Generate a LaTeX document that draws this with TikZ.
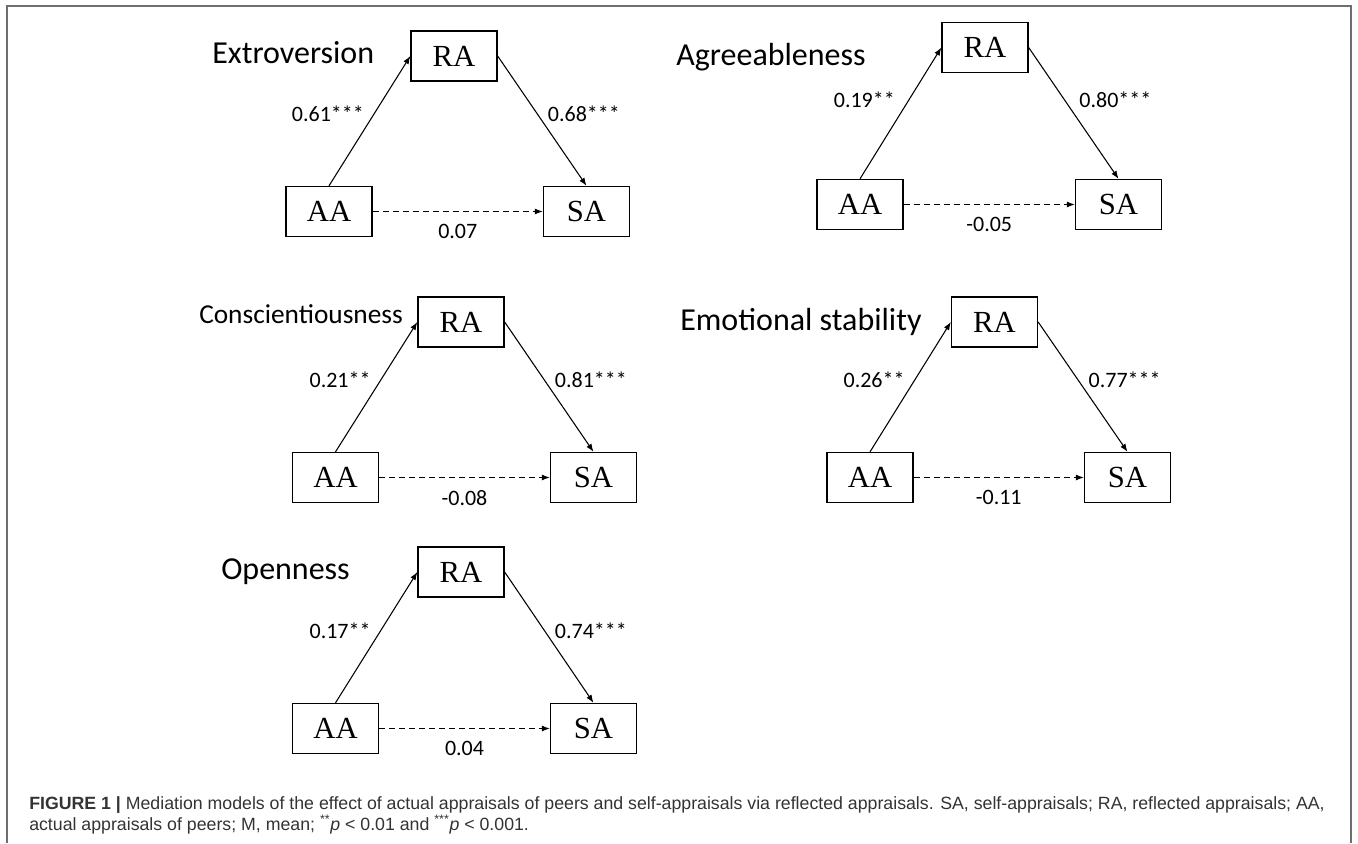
\documentclass[tikz,border=0pt]{standalone}
\usepackage{fontspec}
\setmainfont{Liberation Serif}
\newfontfamily\calfont{Carlito}
\newfontfamily\capfont{Liberation Sans}
\usepackage{xcolor}
\usetikzlibrary{arrows.meta,positioning}
\definecolor{framegray}{HTML}{6E6E6E}
\definecolor{captext}{HTML}{333333}

\begin{document}
\begin{tikzpicture}[x=0.75pt,y=-0.75pt,
  box/.style={draw,line width=1pt,minimum width=64.5pt,minimum height=37.5pt,inner sep=0pt,font=\fontsize{23}{23}\selectfont},
  trait/.style={anchor=base west,inner sep=0pt,font=\calfont\fontsize{24}{24}\selectfont},
  coef/.style={inner sep=4pt,font=\calfont\fontsize{16.5}{16.5}\selectfont},
  slopecoef/.style={coef,yshift=-5pt},
  link/.style={-{Latex[length=6pt,width=4.5pt]},line width=0.8pt},
  directlink/.style={link,dash pattern=on 4.5pt off 3pt}]
\useasboundingbox (0,0) rectangle (1358,843);
\draw[framegray,line width=1.5pt] (7,843) -- (7,6) -- (1351,6) -- (1351,843);

% Extroversion
\node[trait] (t1) at (212,63) {Extroversion};
\node[box] (ra1) at (454,56) {RA};
\node[box] (aa1) at (329,211.5) {AA};
\node[box] (sa1) at (586.5,211.5) {SA};
\draw[link] (aa1.north) -- (ra1.west) node[slopecoef,midway,above left]{0.61***};
\draw[link] (ra1.east) -- (sa1.north) node[slopecoef,midway,above right]{0.68***};
\draw[directlink] (aa1.east) -- (sa1.west) node[coef,midway,below=5pt]{0.07};

% Agreeableness
\node[trait] (t2) at (676,65) {Agreeableness};
\node[box] (ra2) at (985,47.5) {RA};
\node[box] (aa2) at (860,204.5) {AA};
\node[box] (sa2) at (1118.5,204.5) {SA};
\draw[link] (aa2.north) -- (ra2.west) node[coef,midway,above left]{0.19**};
\draw[link] (ra2.east) -- (sa2.north) node[coef,midway,above right]{0.80***};
\draw[directlink] (aa2.east) -- (sa2.west) node[coef,midway,below=5pt]{-0.05};

% Conscientiousness
\node[trait,font=\calfont\fontsize{20.5}{20.5}\selectfont] (t3) at (199,323) {Conscientiousness};
\node[box] (ra3) at (461,322) {RA};
\node[box] (aa3) at (335.5,477.5) {AA};
\node[box] (sa3) at (593.5,477.5) {SA};
\draw[link] (aa3.north) -- (ra3.west) node[slopecoef,midway,above left]{0.21**};
\draw[link] (ra3.east) -- (sa3.north) node[slopecoef,midway,above right]{0.81***};
\draw[directlink] (aa3.east) -- (sa3.west) node[coef,midway,below=5pt]{-0.08};

% Emotional stability
\node[trait] (t4) at (680,330) {Emotional stability};
\node[box] (ra4) at (994.5,322) {RA};
\node[box] (aa4) at (870,477.5) {AA};
\node[box] (sa4) at (1127.5,477.5) {SA};
\draw[link] (aa4.north) -- (ra4.west) node[slopecoef,midway,above left]{0.26**};
\draw[link] (ra4.east) -- (sa4.north) node[slopecoef,midway,above right]{0.77***};
\draw[directlink] (aa4.east) -- (sa4.west) node[coef,midway,below=5pt]{-0.11};

% Openness
\node[trait] (t5) at (221,579) {Openness};
\node[box] (ra5) at (461,572) {RA};
\node[box] (aa5) at (335.5,728.5) {AA};
\node[box] (sa5) at (593.5,728.5) {SA};
\draw[link] (aa5.north) -- (ra5.west) node[slopecoef,midway,above left]{0.17**};
\draw[link] (ra5.east) -- (sa5.north) node[slopecoef,midway,above right]{0.74***};
\draw[directlink] (aa5.east) -- (sa5.west) node[coef,midway,below=5pt]{0.04};

% caption
\node[anchor=base west,align=left,inner sep=0pt,text=captext,font=\capfont\fontsize{13.3}{15.75}\selectfont] (cap) at (29,830)
  {\textbf{FIGURE 1 |} Mediation models of the effect of actual appraisals of peers and self-appraisals via reflected appraisals. SA, self-appraisals; RA, reflected appraisals; AA,\\
   actual appraisals of peers; M, mean; \textsuperscript{**}\textit{p} < 0.01 and \textsuperscript{***}\textit{p} < 0.001.};
\end{tikzpicture}
\end{document}
